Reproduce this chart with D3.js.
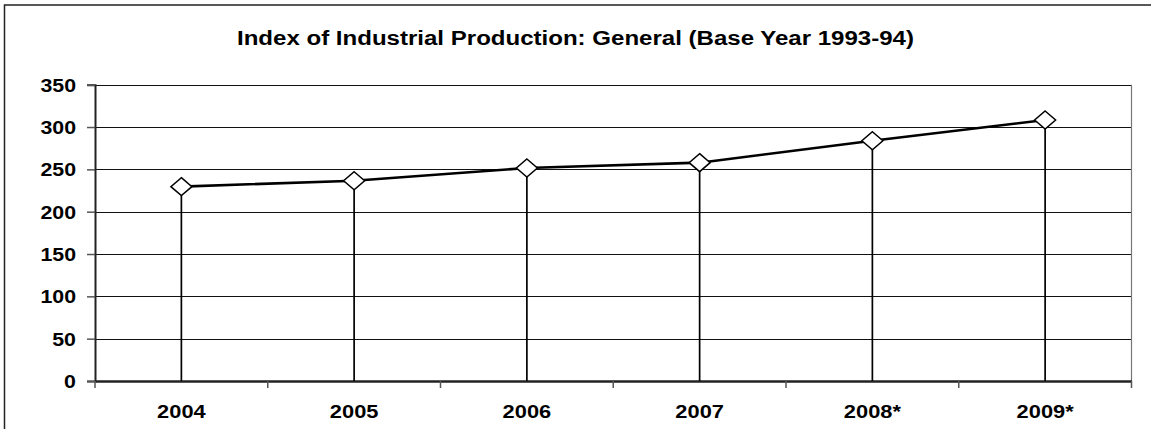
<!DOCTYPE html>
<html>
<head>
<meta charset="utf-8">
<script src="https://cdn.jsdelivr.net/npm/d3@7"></script>
<style>
  html, body { margin: 0; padding: 0; background: #fff; }
  svg { display: block; }
  text { font-family: "Liberation Sans", Arial, sans-serif; font-weight: bold; fill: #000; }
</style>
</head>
<body>
<svg id="chart" width="1151" height="429"></svg>
<script>
const categories = ["2004", "2005", "2006", "2007", "2008*", "2009*"];
const values = [229.6, 236.6, 251.6, 257.9, 283.8, 308.3];
const yTicks = [0, 50, 100, 150, 200, 250, 300, 350];
const title = "Index of Industrial Production: General (Base Year 1993-94)";

(function () {
const svg = d3.select("#chart");
const pLeft = 95, pRight = 1131.5, pTop = 84.7, pBottom = 381;

// outer border
svg.append("rect")
  .attr("x", 4.5).attr("y", 5).attr("width", 1300).attr("height", 600)
  .attr("fill", "none").attr("stroke", "#222").attr("stroke-width", 1.5);

const x = d3.scaleBand().domain(categories).range([pLeft, pRight]).padding(0);
const y = d3.scaleLinear().domain([0, 350]).range([pBottom, pTop]);

// gridlines
svg.append("g").selectAll("line").data(yTicks.filter(d => d > 0)).join("line")
  .attr("x1", pLeft).attr("x2", pRight)
  .attr("y1", d => Math.round(y(d)) + 0.5).attr("y2", d => Math.round(y(d)) + 0.5)
  .attr("stroke", "#111").attr("stroke-width", 1.2);

// right plot border
svg.append("line").attr("x1", pRight).attr("x2", pRight).attr("y1", pTop).attr("y2", pBottom)
  .attr("stroke", "#777").attr("stroke-width", 1.2);

// y axis
const yAxis = d3.axisLeft(y).tickValues(yTicks).tickSize(8).tickPadding(0).tickFormat(d3.format("d"));
const gy = svg.append("g").attr("transform", `translate(${pLeft},0)`).call(yAxis);
gy.select(".domain").attr("stroke", "#222").attr("stroke-width", 2);
gy.selectAll(".tick line").attr("stroke", "#555").attr("stroke-width", 1.5);
gy.selectAll(".tick text").remove();
gy.selectAll(".tick").append("text")
  .attr("text-anchor", "end")
  .attr("font-size", 17.5)
  .attr("transform", "translate(-19,6.5) scale(1.22,1)")
  .text(d => d);

// x axis
const xAxis = d3.axisBottom(x).tickSize(0).tickPadding(0);
const gx = svg.append("g").attr("transform", `translate(0,${pBottom})`).call(xAxis);
gx.select(".domain").attr("stroke", "#222").attr("stroke-width", 2.5);
gx.selectAll(".tick text").remove();
gx.selectAll(".tick").append("text")
  .attr("text-anchor", "middle")
  .attr("font-size", 18.5)
  .attr("transform", "translate(0,37) scale(1.18,1)")
  .text(d => d);
// category boundary ticks
const bounds = categories.map(c => x(c)).concat([pRight]);
svg.append("g").selectAll("line").data(bounds).join("line")
  .attr("x1", d => d).attr("x2", d => d)
  .attr("y1", pBottom).attr("y2", pBottom + 7)
  .attr("stroke", "#555").attr("stroke-width", 1.5);

const cx = (c) => x(c) + x.bandwidth() / 2;

// drop lines
svg.append("g").selectAll("line").data(categories).join("line")
  .attr("x1", c => cx(c)).attr("x2", c => cx(c))
  .attr("y1", (c, i) => y(values[i])).attr("y2", pBottom)
  .attr("stroke", "#000").attr("stroke-width", 1.7);

// line
const line = d3.line().x((d, i) => cx(categories[i])).y(d => y(d));
svg.append("path").datum(values)
  .attr("d", line).attr("fill", "none")
  .attr("stroke", "#000").attr("stroke-width", 2.6);

// diamonds
const hw = 10.5, hh = 9;
svg.append("g").selectAll("path").data(values).join("path")
  .attr("d", (d, i) => {
    const px = cx(categories[i]), py = y(d);
    return `M${px},${py - hh}L${px + hw},${py}L${px},${py + hh}L${px - hw},${py}Z`;
  })
  .attr("fill", "#fff").attr("stroke", "#000").attr("stroke-width", 1.5);

// title
svg.append("text")
  .attr("x", 575.5).attr("y", 45)
  .attr("text-anchor", "middle")
  .attr("font-size", 19.5)
  .attr("textLength", 677).attr("lengthAdjust", "spacingAndGlyphs")
  .text(title);
})();
</script>
</body>
</html>
